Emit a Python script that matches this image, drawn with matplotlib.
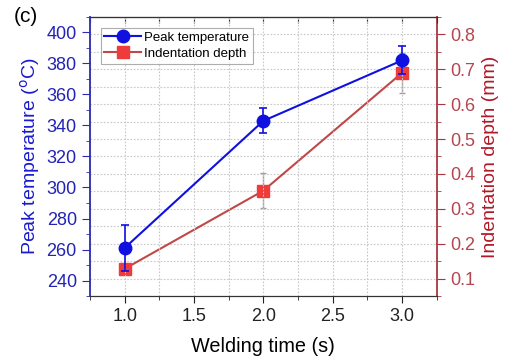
import matplotlib.pyplot as plt
from matplotlib.ticker import MultipleLocator

plt.rcParams["font.family"] = ["Liberation Sans", "DejaVu Sans"]

# ---------------------------------------------------------
# Datos
# ---------------------------------------------------------
welding_time = [1.0, 2.0, 3.0]
peak_temp = [261, 343, 382]
peak_temp_err = [15, 8, 9]
indent_depth = [0.128, 0.352, 0.69]
indent_depth_err = [0.01, 0.05, 0.057]

blue = "#1010e0"
blue_axis = "#2b2bb0"
red_line = "#c04848"
red_marker = "#ee3b3b"
red_axis = "#a8343f"
grid_color = "#c8c8c8"

fig = plt.figure(figsize=(5.2, 3.61), dpi=100)
ax1 = fig.add_axes([0.173, 0.180, 0.667, 0.773])
ax2 = ax1.twinx()

# ax1 por encima para que la rejilla de ax2 quede al fondo
ax1.set_zorder(ax2.get_zorder() + 1)
ax1.patch.set_visible(False)
ax1.set_axisbelow(True)

# Serie de profundidad (eje derecho)
l2, = ax2.plot(welding_time, indent_depth, color=red_line, lw=1.5,
               marker="s", ms=8, mfc=red_marker, mec=red_marker,
               label="Indentation depth")
ax2.errorbar(welding_time, indent_depth, yerr=indent_depth_err, fmt="none",
             ecolor="#a0a0a0", elinewidth=1, capsize=2, zorder=1)

# Serie de temperatura (eje izquierdo)
ax1.errorbar(welding_time, peak_temp, yerr=peak_temp_err, fmt="none",
             ecolor=blue, elinewidth=1.2, capsize=3, capthick=1.2)
l1, = ax1.plot(welding_time, peak_temp, color=blue, lw=1.5,
               marker="o", ms=9, mfc=blue, mec=blue,
               label="Peak temperature")

ax1.set_xlim(0.75, 3.25)
ax1.set_ylim(230, 410)
ax2.set_ylim(0.05, 0.85)

ax1.xaxis.set_major_locator(MultipleLocator(0.5))
ax1.xaxis.set_minor_locator(MultipleLocator(0.25))
ax1.yaxis.set_major_locator(MultipleLocator(20))
ax1.yaxis.set_minor_locator(MultipleLocator(10))
ax2.yaxis.set_major_locator(MultipleLocator(0.1))
ax2.yaxis.set_minor_locator(MultipleLocator(0.05))
ax1.xaxis.set_major_formatter(lambda v, p: f"{v:.1f}")
ax2.yaxis.set_major_formatter(lambda v, p: f"{v:.1f}")

# Rejilla punteada: horizontal segun eje derecho, vertical cada 0.25
ax2.grid(True, which="both", axis="y", color=grid_color,
         ls=(0, (1.5, 1.5)), lw=0.8)
ax1.grid(True, which="both", axis="x", color=grid_color,
         ls=(0, (1.5, 1.5)), lw=0.8)

# Ejes y colores
for ax in (ax1, ax2):
    ax.spines["top"].set_color("#333333")
    ax.spines["bottom"].set_color("#333333")
ax1.spines["left"].set_color(blue_axis)
ax1.spines["left"].set_linewidth(1.3)
ax2.spines["left"].set_visible(False)
ax2.spines["right"].set_color(red_axis)
ax2.spines["right"].set_linewidth(1.3)
ax1.spines["right"].set_visible(False)

ax1.tick_params(axis="x", which="both", direction="out", colors="#222222",
                labelsize=13)
ax1.tick_params(axis="x", which="major", length=5)
ax1.tick_params(axis="x", which="minor", length=3)
ax1.tick_params(axis="y", which="both", direction="out", color=blue_axis,
                labelcolor="#2323b5", labelsize=13)
ax1.tick_params(axis="y", which="major", length=6)
ax1.tick_params(axis="y", which="minor", length=3)
ax2.tick_params(axis="y", which="both", direction="out", color=red_axis,
                labelcolor="#b5454f", labelsize=13)
ax2.tick_params(axis="y", which="major", length=6)
ax2.tick_params(axis="y", which="minor", length=3)

# Marcas superiores hacia dentro
top = ax1.secondary_xaxis("top")
top.xaxis.set_major_locator(MultipleLocator(0.25))
top.tick_params(direction="in", length=4, color="#333333", labeltop=False)
top.spines["top"].set_color("#333333")

ax1.set_xlabel("Welding time (s)", fontsize=14.3, labelpad=9)
ax1.set_ylabel("Peak temperature ($^{\\mathrm{o}}$C)", fontsize=14,
               color="#1a1ad0", labelpad=3)
ax2.set_ylabel("Indentation depth (mm)", fontsize=14, color="#b01a28",
               labelpad=5)

leg = ax1.legend(handles=[l1, l2], loc="upper left", fontsize=9.5,
                 frameon=True, fancybox=False, edgecolor="#999999",
                 handlelength=2.8, handletextpad=0.2, borderpad=0.3,
                 labelspacing=0.3, borderaxespad=0.8)
leg.get_frame().set_linewidth(0.8)

fig.text(0.027, 0.955, "(c)", fontsize=15, ha="left", va="center")

plt.savefig("out.png", dpi=100)
plt.close()
